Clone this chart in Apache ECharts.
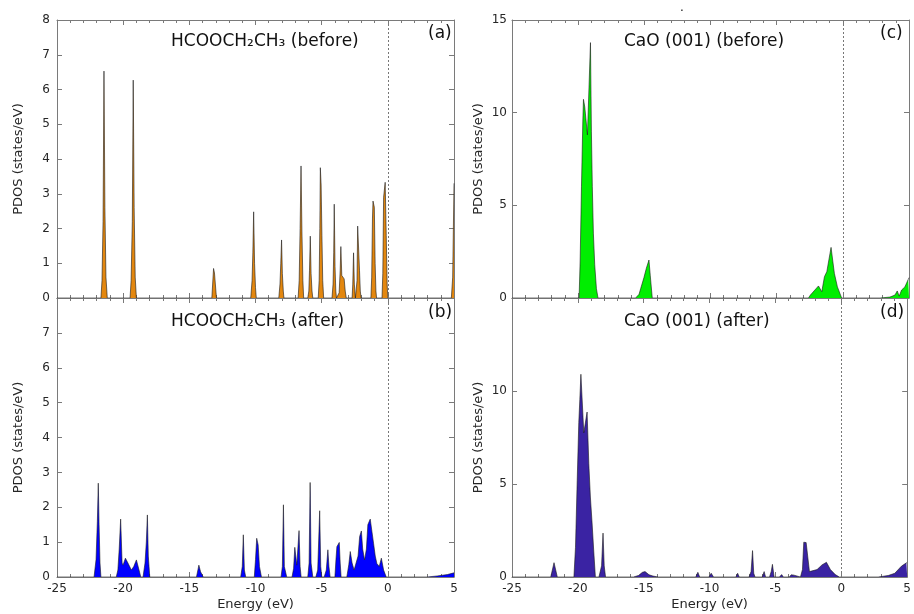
<!DOCTYPE html>
<html>
<head>
<meta charset="utf-8">
<script src="https://cdn.jsdelivr.net/npm/echarts@6/dist/echarts.min.js"></script>
<style>
  html, body { margin: 0; padding: 0; background: #fff; }
  #chart { width: 914px; height: 614px; }
</style>
</head>
<body>
<div id="chart"></div>
<script>
  // PDOS curves, [energy (eV), states/eV]
  const molBefore = [
    [-25, 0], [-21.68, 0], [-21.6, 0.5], [-21.52, 2.2], [-21.45, 6.53], [-21.38, 2.6], [-21.3, 0.6], [-21.2, 0],
    [-19.48, 0], [-19.4, 0.5], [-19.31, 2.2], [-19.24, 6.27], [-19.17, 2.6], [-19.09, 0.6], [-19.0, 0],
    [-13.3, 0], [-13.17, 0.85], [-13.1, 0.72], [-12.95, 0],
    [-10.36, 0], [-10.26, 0.5], [-10.2, 1.3], [-10.14, 2.48], [-10.07, 1.0], [-10.0, 0.3], [-9.94, 0],
    [-8.24, 0], [-8.15, 0.4], [-8.09, 1.0], [-8.03, 1.67], [-7.97, 0.7], [-7.9, 0.2], [-7.85, 0],
    [-6.78, 0], [-6.7, 0.5], [-6.63, 2.0], [-6.56, 3.8], [-6.49, 1.9], [-6.42, 0.5], [-6.36, 0],
    [-6.05, 0], [-5.97, 0.2], [-5.92, 0.8], [-5.86, 1.78], [-5.8, 0.7], [-5.73, 0.2], [-5.67, 0],
    [-5.26, 0], [-5.19, 0.5], [-5.14, 2.0], [-5.1, 3.75], [-5.04, 3.25], [-4.98, 1.8], [-4.92, 0.5], [-4.85, 0],
    [-4.22, 0], [-4.14, 0.4], [-4.09, 1.3], [-4.05, 2.7], [-3.99, 0.9], [-3.93, 0.2], [-3.88, 0],
    [-3.77, 0], [-3.68, 0.15], [-3.6, 0.8], [-3.55, 1.48], [-3.48, 0.65], [-3.38, 0.6], [-3.3, 0.55], [-3.22, 0.2], [-3.14, 0],
    [-2.7, 0], [-2.65, 0.4], [-2.59, 1.3], [-2.53, 0.4], [-2.45, 0],
    [-2.4, 0], [-2.33, 0.5], [-2.28, 2.07], [-2.2, 2.05], [-2.14, 0.8], [-2.08, 0.2], [-2.02, 0],
    [-1.28, 0], [-1.22, 0.6], [-1.16, 2.3], [-1.12, 2.79], [-1.02, 2.61], [-0.96, 1.0], [-0.9, 0.2], [-0.85, 0],
    [-0.44, 0], [-0.38, 0.7], [-0.32, 2.9], [-0.2, 3.33], [-0.12, 1.8], [-0.05, 0.4], [0, 0],
    [4.8, 0], [4.9, 0.6], [5, 3.3]
  ]
  const molAfter = [
    [-25, 0], [-22.2, 0], [-22.05, 0.5], [-21.95, 1.6], [-21.88, 2.69], [-21.82, 1.5], [-21.75, 0.4], [-21.68, 0],
    [-20.52, 0], [-20.4, 0.2], [-20.3, 0.8], [-20.19, 1.66], [-20.08, 0.4], [-20.01, 0.34], [-19.83, 0.54],
    [-19.64, 0.4], [-19.38, 0.2], [-19.2, 0.3], [-19.0, 0.49], [-18.8, 0.2], [-18.67, 0],
    [-18.5, 0], [-18.35, 0.4], [-18.25, 1.0], [-18.17, 1.78], [-18.1, 0.6], [-17.99, 0],
    [-14.46, 0], [-14.28, 0.34], [-14.15, 0.15], [-13.95, 0],
    [-11.12, 0], [-11.0, 0.3], [-10.92, 1.21], [-10.84, 0.2], [-10.74, 0],
    [-10.09, 0], [-10.0, 0.5], [-9.91, 1.11], [-9.8, 0.92], [-9.7, 0.3], [-9.55, 0],
    [-8.07, 0], [-7.97, 0.3], [-7.89, 2.07], [-7.82, 0.3], [-7.64, 0],
    [-7.24, 0], [-7.12, 0.25], [-7.03, 0.85], [-6.88, 0.34], [-6.71, 1.33], [-6.63, 0.3], [-6.55, 0],
    [-6.05, 0], [-5.95, 0.4], [-5.87, 2.71], [-5.8, 0.4], [-5.67, 0],
    [-5.44, 0], [-5.3, 0.2], [-5.15, 1.9], [-5.07, 0.3], [-4.99, 0],
    [-4.81, 0], [-4.65, 0.2], [-4.53, 0.78], [-4.45, 0.3], [-4.36, 0],
    [-4.0, 0], [-3.92, 0.5], [-3.85, 0.87], [-3.75, 0.9], [-3.67, 0.99], [-3.6, 0.4], [-3.53, 0],
    [-3.1, 0], [-2.95, 0.35], [-2.84, 0.73], [-2.7, 0.4], [-2.55, 0.2], [-2.4, 0.15], [-2.25, 0.6],
    [-2.13, 1.16], [-2.0, 1.32], [-1.9, 0.8], [-1.76, 0.49], [-1.62, 0.8], [-1.51, 1.5], [-1.33, 1.66],
    [-1.2, 1.3], [-1.08, 0.97], [-0.95, 0.6], [-0.83, 0.39], [-0.65, 0.3], [-0.49, 0.54], [-0.32, 0.2], [-0.12, 0],
    [2.97, 0], [3.73, 0.03], [4.5, 0.07], [5, 0.12]
  ]
  const caoBefore = [
    [-25, 0], [-19.93, 0], [-19.85, 2.0], [-19.75, 6.0], [-19.65, 9.5], [-19.6, 10.72], [-19.5, 10.3],
    [-19.3, 8.8], [-19.07, 13.78], [-19.0, 9.0], [-18.93, 6.0], [-18.85, 3.5], [-18.75, 1.8], [-18.62, 0.5], [-18.5, 0],
    [-15.66, 0], [-15.4, 0.2], [-15.28, 0.5], [-15.03, 1.1], [-14.85, 1.6], [-14.65, 2.05], [-14.55, 1.2], [-14.4, 0],
    [-2.6, 0], [-2.45, 0.16], [-1.84, 0.65], [-1.59, 0.34], [-1.39, 1.15], [-1.21, 1.42], [-0.89, 2.73],
    [-0.64, 1.33], [-0.41, 0.6], [-0.09, 0],
    [2.81, 0], [3.56, 0.05], [3.94, 0.16], [4.11, 0.38], [4.26, 0.1], [4.44, 0.43], [4.69, 0.6], [4.94, 1.0], [5, 1.1]
  ]
  const caoAfter = [
    [-25, 0], [-22.06, 0], [-21.81, 0.77], [-21.56, 0],
    [-20.3, 0], [-20.18, 1.6], [-20.05, 5.2], [-19.93, 8.3], [-19.85, 9.55], [-19.77, 10.9], [-19.55, 7.75],
    [-19.3, 8.87], [-19.17, 6.1], [-19.05, 4.3], [-18.92, 2.9], [-18.8, 1.46], [-18.67, 0],
    [-18.4, 0], [-18.2, 0.6], [-18.09, 2.36], [-18.0, 0.6], [-17.9, 0],
    [-15.78, 0], [-15.4, 0.08], [-15.1, 0.25], [-14.9, 0.29], [-14.6, 0.12], [-14.3, 0.05], [-13.9, 0],
    [-11.05, 0], [-10.89, 0.25], [-10.75, 0],
    [-10.05, 0], [-9.88, 0.2], [-9.78, 0.18], [-9.7, 0],
    [-8.0, 0], [-7.87, 0.2], [-7.75, 0],
    [-7.0, 0], [-6.85, 0.3], [-6.74, 1.42], [-6.65, 0.2], [-6.55, 0],
    [-6.0, 0], [-5.86, 0.29], [-5.75, 0],
    [-5.45, 0], [-5.32, 0.3], [-5.23, 0.68], [-5.1, 0],
    [-4.7, 0], [-4.53, 0.13], [-4.4, 0],
    [-3.95, 0], [-3.8, 0.12], [-3.6, 0.1], [-3.45, 0],
    [-3.1, 0], [-2.95, 0.4], [-2.85, 1.87], [-2.67, 1.85], [-2.42, 0.29], [-2.27, 0.38], [-1.84, 0.4],
    [-1.47, 0.65], [-1.13, 0.79], [-0.83, 0.4], [-0.46, 0.13], [-0.15, 0],
    [2.8, 0], [3.56, 0.08], [4.06, 0.2], [4.56, 0.58], [4.94, 0.76], [5, 0.8]
  ]

  const panelData = [molBefore, molAfter, caoBefore, caoAfter]
  const panelTitles = ['HCOOCH₂CH₃ (before)', 'HCOOCH₂CH₃ (after)', 'CaO (001) (before)', 'CaO (001) (after)']
  const panelTags = ['(a)', '(b)', '(c)', '(d)']
  const yMaxList = [8, 8, 15, 15]
  const yStepList = [1, 1, 5, 5]

  const fillColors = ['#e3870f', '#0000ff', '#00ee00', '#3a23a3']
  const font = 'DejaVu Sans'
  const frameColor = '#7a7a7a'
  const labelColor = '#262626'

  // 2x2 layout, panels glued top/bottom
  const grids = [
    { left: 57, top: 20, width: 397, height: 278 },
    { left: 57, top: 298, width: 397, height: 279 },
    { left: 512, top: 20, width: 397, height: 278 },
    { left: 512, top: 298, width: 397, height: 279 }
  ]

  const xAxes = []
  const yAxes = []
  const series = []
  const graphics = []

  grids.forEach((g, i) => {
    const isBottom = i % 2 === 1
    const isRight = i >= 2
    // bottom axis + mirrored top axis
    ;['bottom', 'top'].forEach((pos) => {
      xAxes.push({
        type: 'value',
        gridIndex: i,
        position: pos,
        min: -25,
        max: 5,
        interval: 5,
        axisLine: { show: true, onZero: false, lineStyle: { color: frameColor, width: 1 } },
        axisTick: { show: true, inside: true, length: 5, lineStyle: { color: frameColor } },
        minorTick: { show: true, splitNumber: 5, length: 3, lineStyle: { color: frameColor } },
        splitLine: { show: false },
        axisLabel: {
          show: pos === 'bottom' && isBottom,
          color: labelColor,
          fontSize: 12,
          fontFamily: font,
          margin: 6
        },
        name: pos === 'bottom' && isBottom ? 'Energy (eV)' : '',
        nameLocation: 'middle',
        nameGap: 21,
        nameTextStyle: { color: labelColor, fontSize: 13, fontFamily: font }
      })
    })
    // left axis + mirrored right axis
    ;['left', 'right'].forEach((pos) => {
      yAxes.push({
        type: 'value',
        gridIndex: i,
        position: pos,
        min: 0,
        max: yMaxList[i],
        interval: yStepList[i],
        axisLine: { show: true, onZero: false, lineStyle: { color: frameColor, width: 1 } },
        axisTick: { show: true, inside: true, length: 5, lineStyle: { color: frameColor } },
        splitLine: { show: false },
        axisLabel: {
          show: pos === 'left',
          showMaxLabel: !isBottom,
          color: labelColor,
          fontSize: 12,
          fontFamily: font,
          margin: isRight ? 5 : 7
        },
        name: pos === 'left' ? 'PDOS (states/eV)' : '',
        nameLocation: 'middle',
        nameGap: isRight ? 27 : 32,
        nameTextStyle: { color: labelColor, fontSize: 13, fontFamily: font }
      })
    })

    series.push({
      type: 'line',
      xAxisIndex: i * 2,
      yAxisIndex: i * 2,
      data: panelData[i],
      symbol: 'none',
      smooth: false,
      lineStyle: { color: '#1a1a1a', width: 0.6 },
      areaStyle: { color: fillColors[i], opacity: 1 },
      // Fermi level
      markLine: {
        silent: true,
        symbol: 'none',
        label: { show: false },
        lineStyle: { color: '#777', width: 1, type: [2, 2] },
        data: [{ xAxis: 0 }]
      },
      z: 2
    })

    // panel title and tag
    graphics.push({
      type: 'text',
      left: g.left + (isRight ? 112 : 114),
      top: g.top + (isBottom ? 15 : 13),
      style: { text: panelTitles[i], fontSize: 17, fontFamily: font, fill: '#111' }
    })
    graphics.push({
      type: 'text',
      left: g.left + g.width - (isRight ? 29 : 26),
      top: g.top + (isBottom ? 6 : 5),
      style: { text: panelTags[i], fontSize: 17, fontFamily: font, fill: '#111' }
    })
  })

  // stray dot above the right column
  graphics.push({
    type: 'text',
    left: 680,
    top: 2,
    style: { text: '.', fontSize: 12, fontFamily: font, fill: '#111' }
  })

  const chart = echarts.init(document.getElementById('chart'))
  chart.setOption({
    animation: false,
    backgroundColor: '#fff',
    grid: grids,
    xAxis: xAxes,
    yAxis: yAxes,
    series: series,
    graphic: graphics
  })
</script>
</body>
</html>
